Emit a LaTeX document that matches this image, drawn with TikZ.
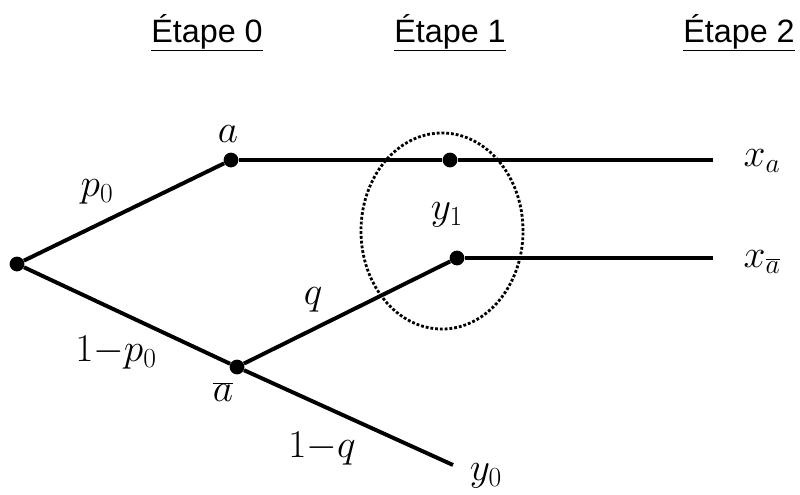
\RequirePackage{fix-cm}
\documentclass[tikz,border=0pt]{standalone}
\usepackage{fontspec}
\setsansfont{Liberation Sans}
\usepackage{tikz}
\usetikzlibrary{positioning,shapes.geometric}

\begin{document}
\begin{tikzpicture}[
    x=0.025cm, y=-0.025cm,
    dot/.style={circle, fill, inner sep=0pt, minimum size=0.37cm},
    branch/.style={line width=2.8pt},
    lab/.style={font=\fontsize{28}{32}\selectfont, inner sep=0pt},
    stage/.style={font=\sffamily\fontsize{23}{27}\selectfont, inner sep=0pt, anchor=base}
]
    \useasboundingbox (0,0) rectangle (800,494);

    % stage titles
    \node[stage] (s0) at (207,42) {\underline{Étape 0}};
    \node[stage] (s1) at (450,42) {\underline{Étape 1}};
    \node[stage] (s2) at (739,42) {\underline{Étape 2}};

    % tree nodes
    \node[dot] (root) at (17,264) {};
    \node[dot] (na) at (231,160) {};
    \node[dot] (nab) at (237,367) {};
    \node[dot] (ny1) at (450,160) {};
    \node[dot] (nq) at (457,258) {};
    \coordinate (ea) at (713,160);
    \coordinate (eab) at (713,258);
    \coordinate (ey0) at (453,465);

    % information set
    \node[draw, ellipse, line width=2pt, dash pattern=on 2pt off 1.4pt,
          minimum width=4.05cm, minimum height=4.9cm] (grp) at (442,231) {};

    % labels
    \node[lab] (la) at (228,134) {$a$};
    \node[lab] (lab) at (223,392) {$\overline{a}$};
    \node[lab] (lp) at (97,192) {$p_0$};
    \node[lab] (lnp) at (116,353) {$1{-}p_0$};
    \node[lab] (lq) at (313,300) {$q$};
    \node[lab] (lnq) at (322,449) {$1{-}q$};
    \node[lab] (ly1) at (447,215) {$y_1$};
    \node[lab] (ly0) at (486,476) {$y_0$};
    \node[lab] (lxa) at (762,161) {$x_a$};
    \node[lab] (lxab) at (762,262) {$x_{\overline{a}}$};

    \draw[branch] (root) -- (na);
    \draw[branch] (root) -- (nab);
    \draw[branch] (na) -- (ny1);
    \draw[branch] (ny1) -- (ea);
    \draw[branch] (nab) -- (nq);
    \draw[branch] (nq) -- (eab);
    \draw[branch] (nab) -- (ey0);
\end{tikzpicture}
\end{document}
